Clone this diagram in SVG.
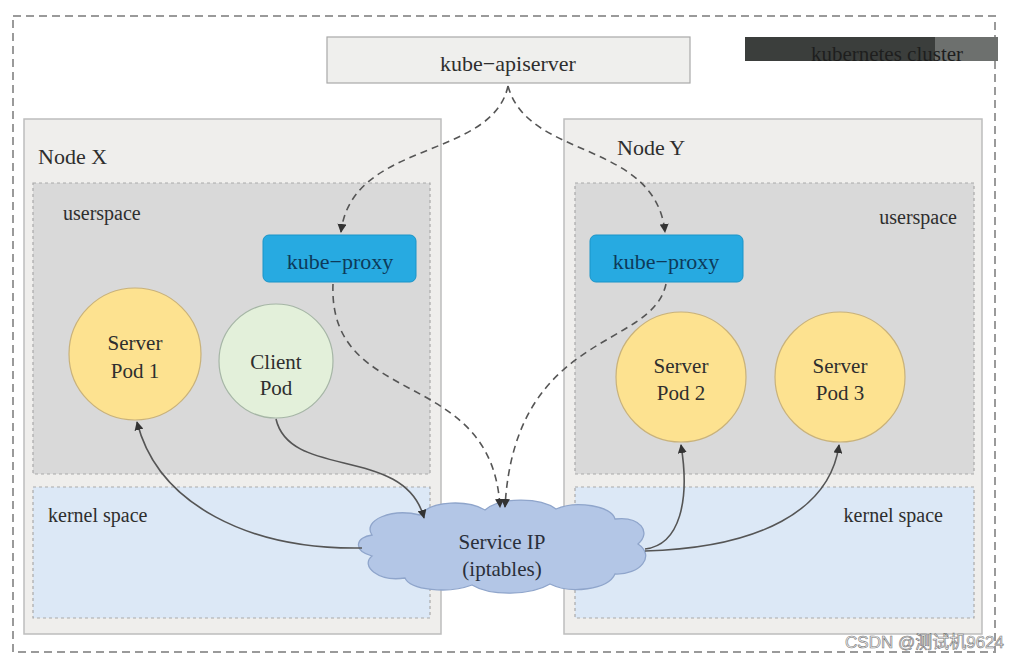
<svg xmlns="http://www.w3.org/2000/svg" width="1019" height="661" viewBox="0 0 1019 661">
<defs>
<style>
text{font-family:"Liberation Serif","Times New Roman",serif;fill:#2e2e2e}
.node{fill:#efeeec;stroke:#bdbdbd;stroke-width:1.5}
.user{fill:#d9d9d9;stroke:#a9a9a9;stroke-width:1.2;stroke-dasharray:3 3}
.kern{fill:#dce8f6;stroke:#a9a9a9;stroke-width:1.2;stroke-dasharray:3 3}
.proxy{fill:#27aae1;stroke:#1a94c8;stroke-width:1}
.server{fill:#fde290;stroke:#c9b27a;stroke-width:1.2}
.client{fill:#e3f0da;stroke:#a6b6a6;stroke-width:1.2}
.nodelbl{font-size:22px}
.pod{font-size:21px}
.space{font-size:20px}
.dash{fill:none;stroke:#555;stroke-width:1.6;stroke-dasharray:7 5}
.solid{fill:none;stroke:#555;stroke-width:1.6}
</style>
<marker id="ah" viewBox="0 0 10 10" refX="9" refY="5" markerWidth="9" markerHeight="9" markerUnits="userSpaceOnUse" orient="auto">
<path d="M0,0 L10,5 L0,10 z" fill="#333"/>
</marker>
</defs>
<rect width="1019" height="661" fill="#ffffff"/>
<rect x="13" y="16" width="982" height="636" fill="none" stroke="#9a9a9a" stroke-width="2" stroke-dasharray="8 5"/>

<g id="cluster-label">
<rect x="745" y="37" width="190" height="24" fill="#3b3e3c"/>
<rect x="935" y="37" width="63" height="24" fill="#6d706e"/>
<text x="887" y="61" text-anchor="middle" font-size="21" style="fill:#1e1e1e">kubernetes cluster</text>
</g>

<g id="apiserver">
<rect x="327" y="37" width="363" height="46" fill="#efefed" stroke="#a8a8a8" stroke-width="1.2"/>
<text x="508" y="71" text-anchor="middle" font-size="22">kube−apiserver</text>
</g>

<g id="node-x">
<rect class="node" x="24" y="119" width="417" height="515"/>
<text x="38" y="164" class="nodelbl">Node X</text>
<rect class="user" x="33" y="183" width="397" height="291"/>
<text x="63" y="220" class="space" font-size="19">userspace</text>
<rect class="kern" x="33" y="487" width="397" height="131"/>
<text x="48" y="522" class="space">kernel space</text>
</g>

<g id="node-y">
<rect class="node" x="564" y="119" width="418" height="515"/>
<text x="617" y="155" class="nodelbl">Node Y</text>
<rect class="user" x="575" y="183" width="399" height="291"/>
<text x="957" y="224" text-anchor="end" class="space" font-size="19">userspace</text>
<rect class="kern" x="575" y="487" width="399" height="131"/>
<text x="943" y="522" text-anchor="end" class="space">kernel space</text>
</g>

<g id="kube-proxy-x">
<rect class="proxy" x="263" y="235" width="153" height="47" rx="6"/>
<text x="340" y="269" text-anchor="middle" font-size="22" style="fill:#0d3a5a">kube−proxy</text>
</g>
<g id="kube-proxy-y">
<rect class="proxy" x="590" y="235" width="153" height="47" rx="6"/>
<text x="666" y="269" text-anchor="middle" font-size="22" style="fill:#0d3a5a">kube−proxy</text>
</g>

<g id="server-pod-1">
<circle class="server" cx="135" cy="354" r="66"/>
<text x="135" y="350" text-anchor="middle" class="pod">Server</text>
<text x="135" y="378" text-anchor="middle" class="pod">Pod 1</text>
</g>
<g id="client-pod">
<circle class="client" cx="276" cy="361" r="57"/>
<text x="276" y="369" text-anchor="middle" class="pod">Client</text>
<text x="276" y="395" text-anchor="middle" class="pod">Pod</text>
</g>
<g id="server-pod-2">
<circle class="server" cx="681" cy="377" r="65"/>
<text x="681" y="373" text-anchor="middle" class="pod">Server</text>
<text x="681" y="400" text-anchor="middle" class="pod">Pod 2</text>
</g>
<g id="server-pod-3">
<circle class="server" cx="840" cy="377" r="65"/>
<text x="840" y="373" text-anchor="middle" class="pod">Server</text>
<text x="840" y="400" text-anchor="middle" class="pod">Pod 3</text>
</g>

<g id="service-ip">
<path d="M372,535 C362,520 392,508 420,515 C432,500 468,500 485,510 C500,497 540,497 556,509 C576,500 612,506 615,519 C640,516 652,532 638,544 C656,556 640,575 615,574 C608,590 570,594 550,584 C530,596 490,596 472,585 C448,594 410,590 405,578 C378,582 360,566 372,556 C352,550 356,537 372,535 Z" fill="#b3c6e6" stroke="#8fa5cb" stroke-width="1.3"/>
<text x="502" y="549" text-anchor="middle" font-size="21" style="fill:#2a2f3a">Service IP</text>
<text x="502" y="576" text-anchor="middle" font-size="21" style="fill:#2a2f3a">(iptables)</text>
</g>

<g id="connectors">
<path class="dash" d="M508,86 C492,160 352,140 341,232" marker-end="url(#ah)"/>
<path class="dash" d="M508,86 C528,160 655,140 665,232" marker-end="url(#ah)"/>
<path class="dash" d="M333,284 C328,410 492,365 500,507" marker-end="url(#ah)"/>
<path class="dash" d="M666,284 C652,350 515,330 505,507" marker-end="url(#ah)"/>
<path class="solid" d="M276,419 C290,480 405,445 424,518" marker-end="url(#ah)"/>
<path class="solid" d="M362,548 C250,550 158,505 137,422" marker-end="url(#ah)"/>
<path class="solid" d="M645,549 C680,545 690,500 681,445" marker-end="url(#ah)"/>
<path class="solid" d="M645,551 C760,548 830,510 839,445" marker-end="url(#ah)"/>
</g>

<text x="1004" y="648" text-anchor="end" font-size="17" style="font-family:'Liberation Sans','Noto Sans CJK SC',sans-serif;fill:#f4f4f4;stroke:#777;stroke-width:0.6">CSDN @测试机9624</text>
</svg>
